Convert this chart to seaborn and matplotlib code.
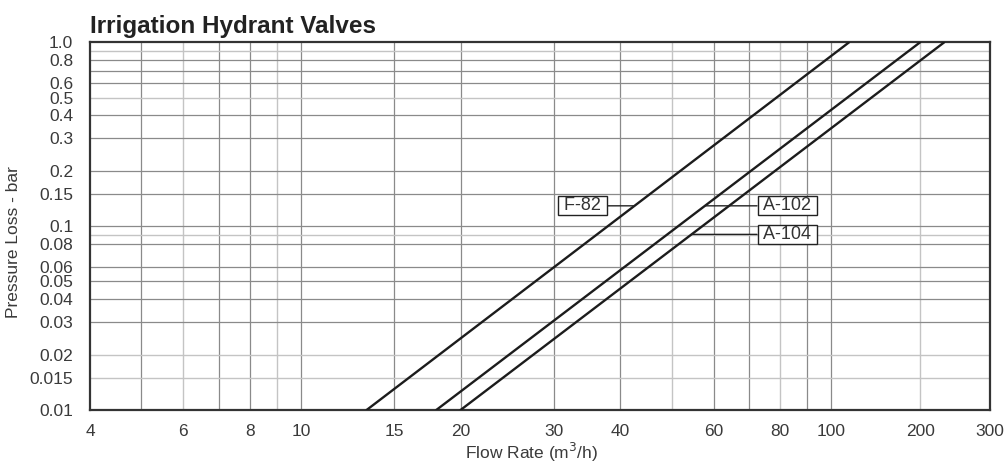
import numpy as np
import pandas as pd
import seaborn as sns
import matplotlib.pyplot as plt

# curves (flow m3/h -> pressure loss bar), straight on the log grid
models = ["F-82", "A-102", "A-104"]
flow_start = [13.3, 18.0, 20.0]
flow_end = [115, 200, 230]
loss_start = [0.01, 0.01, 0.01]
loss_end = [1.0, 1.0, 1.0]

x_ticks = [4, 6, 8, 10, 15, 20, 30, 40, 60, 80, 100, 200, 300]
y_ticks = [0.01, 0.015, 0.02, 0.03, 0.04, 0.05, 0.06, 0.08, 0.1, 0.15, 0.2, 0.3, 0.4, 0.5, 0.6, 0.8, 1.0]
y_tick_labels = ["0.01", "0.015", "0.02", "0.03", "0.04", "0.05", "0.06", "0.08",
                 "0.1", "0.15", "0.2", "0.3", "0.4", "0.5", "0.6", "0.8", "1.0"]

x_grid_dark = [5, 7, 8, 10, 15, 20, 30, 40, 60, 70, 90, 100]
x_grid_light = [6, 9, 50, 80, 200]
y_grid_dark = [0.03, 0.04, 0.05, 0.06, 0.08, 0.1, 0.15, 0.2, 0.3, 0.4, 0.6, 0.7, 0.8]
y_grid_light = [0.015, 0.02, 0.09, 0.5, 0.9]

df = pd.DataFrame({
    "model": models * 2,
    "flow": flow_start + flow_end,
    "loss": loss_start + loss_end,
})

# the printed chart squeezes the decade above 100 (200 and 300 sit close together)
lx_anchor = [-10, 2, np.log10(200), np.log10(300), 10]
t_anchor = [-10, 2, 2.1678, 2.2998, 2.2998 + 10 - np.log10(300)]


def fwd(x):
    x = np.clip(np.asarray(x, dtype=float), 1e-10, None)
    return np.interp(np.log10(x), lx_anchor, t_anchor)


def inv(t):
    return 10 ** np.interp(np.asarray(t, dtype=float), t_anchor, lx_anchor)


sns.set_style("white")
plt.rcParams["font.family"] = ["Liberation Sans", "DejaVu Sans"]

fig = plt.figure(figsize=(10.08, 4.63), dpi=100)
ax = fig.add_axes([0.0893, 0.1145, 0.8929, 0.7941])
ax.set_xscale("function", functions=(fwd, inv))
ax.set_yscale("log")

for v in x_grid_dark:
    ax.axvline(v, color="#8a8a8a", lw=0.9, zorder=0)
for v in x_grid_light:
    ax.axvline(v, color="#c4c4c4", lw=1.0, zorder=0)
for v in y_grid_dark:
    ax.axhline(v, color="#8a8a8a", lw=0.9, zorder=0)
for v in y_grid_light:
    ax.axhline(v, color="#c4c4c4", lw=1.0, zorder=0)

sns.lineplot(data=df, x="flow", y="loss", units="model", estimator=None,
             color="#1c1c1c", lw=1.7, legend=False, ax=ax, zorder=3)

ax.set_xlim(4, 300)
ax.set_ylim(0.01, 1.0)
ax.set_xticks(x_ticks)
ax.set_xticklabels([str(v) for v in x_ticks])
ax.set_xticks([], minor=True)
ax.set_yticks(y_ticks)
ax.set_yticklabels(y_tick_labels)
ax.set_yticks([], minor=True)
ax.tick_params(axis="x", length=7, width=1, color="#9a9a9a", labelsize=12.5,
               labelcolor="#3a3a3a", pad=3)
ax.tick_params(axis="y", length=11, width=1, color="#9a9a9a", labelsize=12.5,
               labelcolor="#3a3a3a", pad=1)

for sp in ax.spines.values():
    sp.set_visible(True)
    sp.set_color("#333333")
    sp.set_linewidth(1.6)

# labels with leader lines to the curves
label_pos = {"F-82": (34, 0.129), "A-102": (82.6, 0.129), "A-104": (82.6, 0.0902)}
for m, x0, x1, y0, y1 in zip(models, flow_start, flow_end, loss_start, loss_end):
    tx, ty = label_pos[m]
    frac = (np.log10(ty) - np.log10(y0)) / (np.log10(y1) - np.log10(y0))
    xl = float(inv(fwd(x0) + frac * (fwd(x1) - fwd(x0))))
    ax.annotate(" " + m + " ", xy=(xl, ty), xytext=(tx, ty), ha="center", va="center",
                fontsize=13, color="#333333", zorder=5,
                bbox=dict(boxstyle="square,pad=0.06", fc="white", ec="#222222", lw=1),
                arrowprops=dict(arrowstyle="-", color="#222222", lw=1,
                                shrinkA=0, shrinkB=0))

ax.set_title("Irrigation Hydrant Valves", loc="left", fontsize=17.5, fontweight="bold",
             color="#222222", pad=7)
ax.set_xlabel("Flow Rate (m$^3$/h)", fontsize=12.5, color="#3a3a3a")
ax.xaxis.set_label_coords(0.491, -0.085)
ax.set_ylabel("Pressure Loss - bar", fontsize=12.5, color="#3a3a3a")
ax.yaxis.set_label_coords(-0.077, 0.457)

fig.savefig("out.png", dpi=100)
